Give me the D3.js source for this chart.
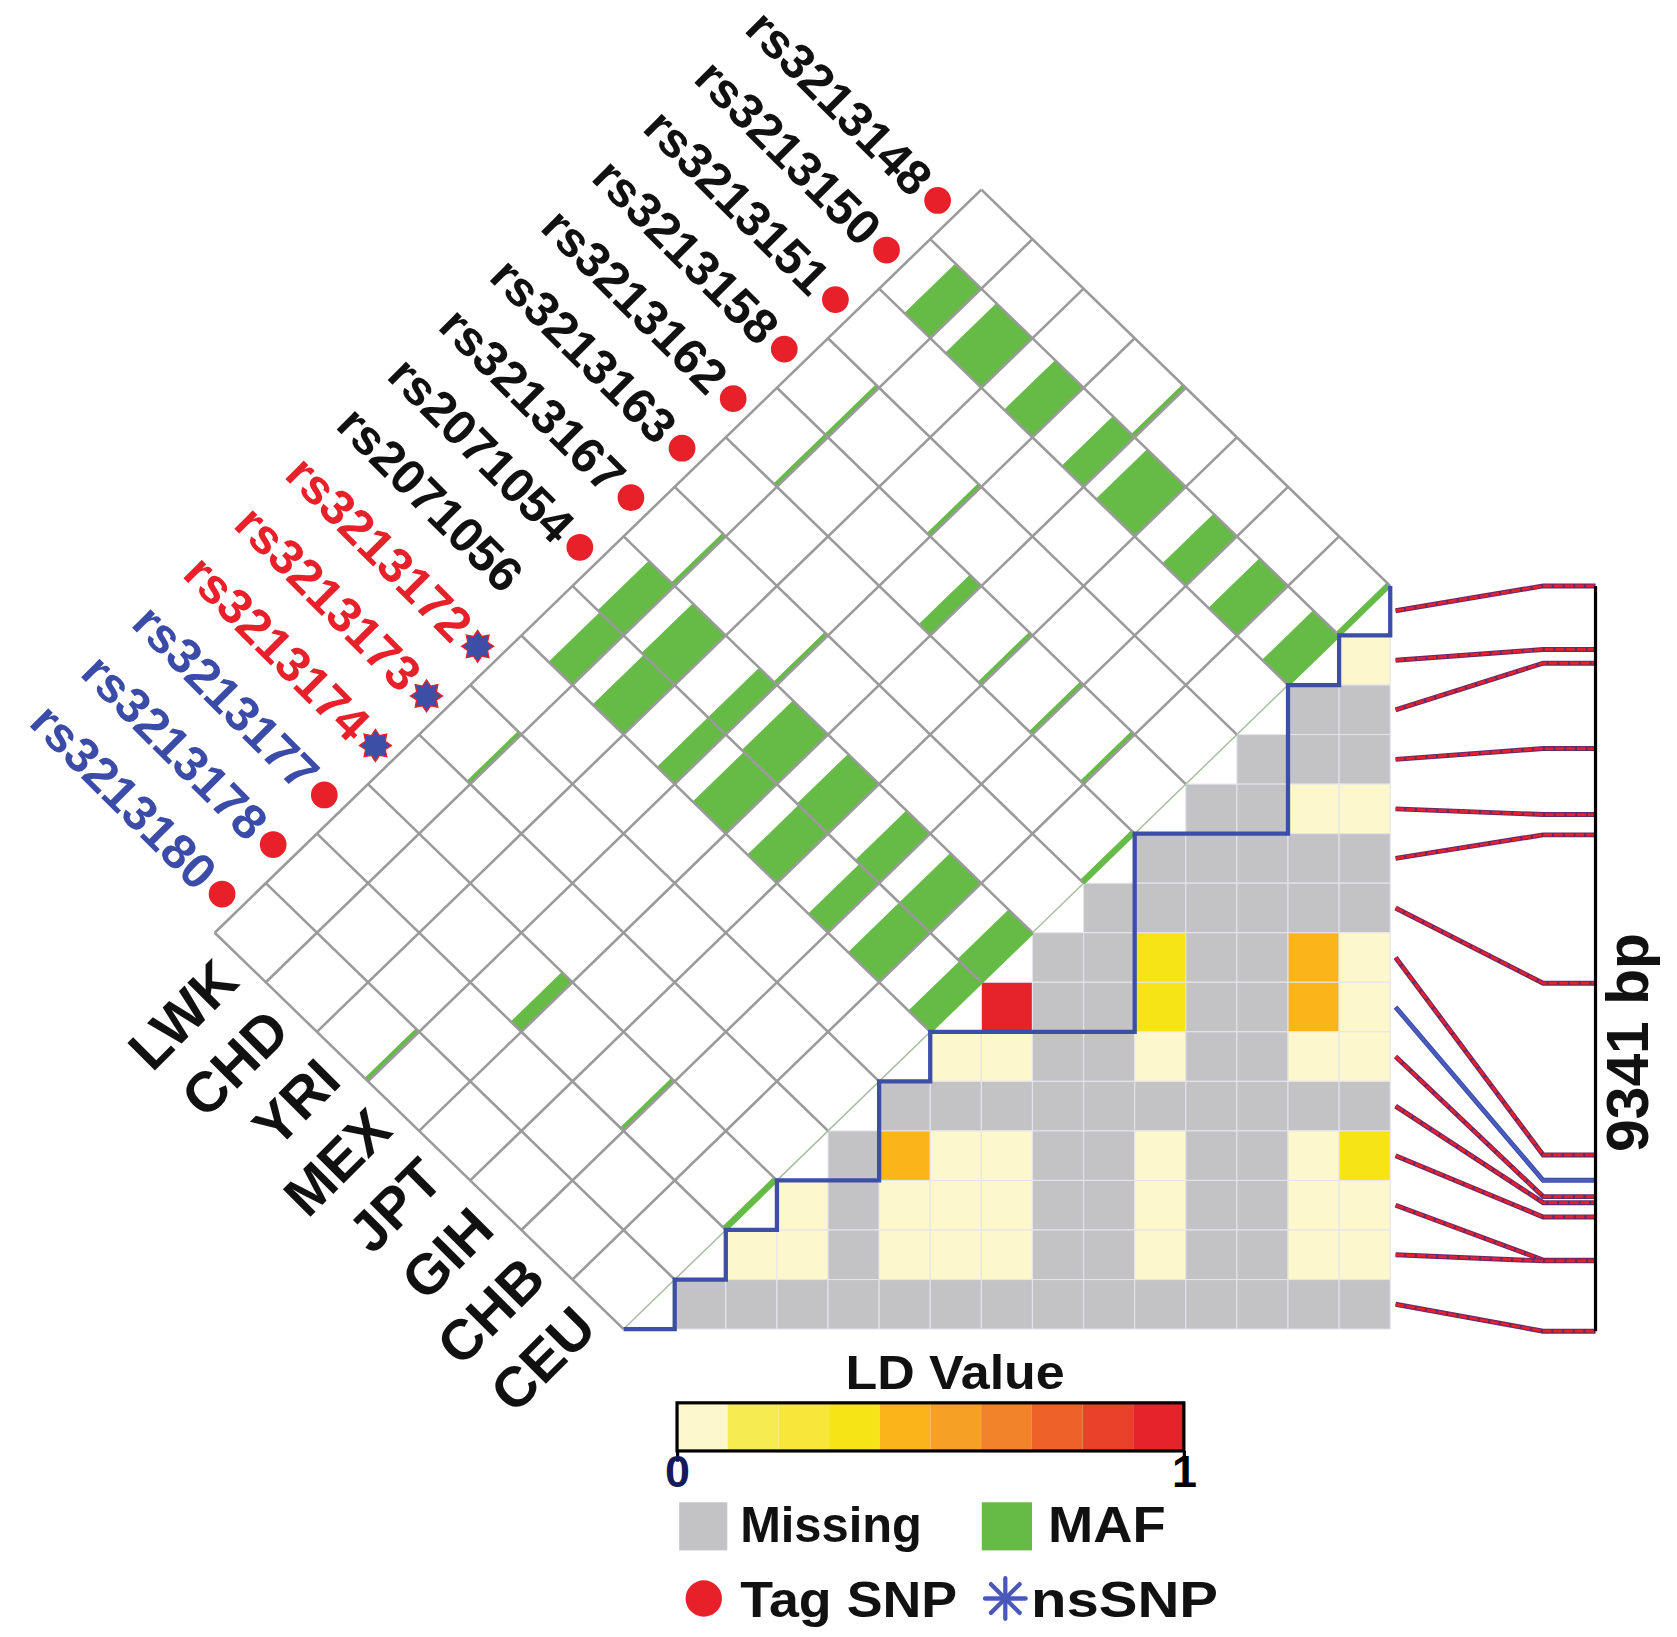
<!DOCTYPE html>
<html><head><meta charset="utf-8">
<script src="https://cdn.jsdelivr.net/npm/d3@7"></script>
<style>html,body{margin:0;padding:0;background:#fff;} svg{display:block}</style>
</head><body>
<svg id="chart" width="1677" height="1637" viewBox="0 0 1568 1531"></svg>
<script>
// ---------------- DATA ----------------
const snps = ["rs3213148","rs3213150","rs3213151","rs3213158","rs3213162","rs3213163","rs3213167",
  "rs2071054","rs2071056","rs3213172","rs3213173","rs3213174","rs3213177","rs3213178","rs3213180"];
const snpLabelColor = ["k","k","k","k","k","k","k","k","k","r","r","r","b","b","b"];
const snpMarker = ["tag","tag","tag","tag","tag","tag","tag","tag","none","ns","ns","ns","tag","tag","tag"];
const populations = ["LWK","CHD","YRI","MEX","JPT","GIH","CHB","CEU"];
// MAF bar fraction per SNP (index order of snps) for each population
const mafLWK = [0, .50, 0, .06, .06, 0, .06, .50, .46, 0, .06, 0, 0, 0, 0];
const mafCHD = [0, .70, 0, 0, 0, 0, 0, .64, .60, 0, 0, 0, 0, 0, 0];
const mafYRI = [0, .55, 0, .06, 0, 0, .06, .34, .34, 0, 0, 0, 0, 0, .06];
const mafMEX = [.06, .42, 0, 0, .22, 0, 0, .68, .64, 0, 0, 0, .20, 0, 0];
const mafJPT = [0, .75, 0, 0, .06, 0, 0, .60, .57, 0, 0, 0, 0, 0, 0];
const mafGIH = [0, .45, 0, 0, .06, 0, 0, .46, .38, 0, 0, 0, .06, 0, 0];
const mafCHB = [0, .55, 0, 0, .06, 0, 0, .60, .60, 0, 0, 0, 0, 0, 0];
const mafCEU = [.06, .50, 0, 0, 0, .06, 0, .46, .42, 0, 0, 0, .06, 0, 0];
const mafByPop = [mafLWK, mafCHD, mafYRI, mafMEX, mafJPT, mafGIH, mafCHB, mafCEU];

// LD values, heatmap row r (SNP r) for columns 15-r .. 14 ; null = missing
const ldRow1  = [.05];
const ldRow2  = [null, null];
const ldRow3  = [null, null, null];
const ldRow4  = [null, null, .05, .05];
const ldRow5  = [null, null, null, null, null];
const ldRow6  = [null, null, null, null, null, null];
const ldRow7  = [null, null, .35, null, null, .45, .05];
const ldRow8  = [.95, null, null, .35, null, null, .45, .05];
const ldRow9  = [.05, .05, null, null, .05, null, null, .05, .05];
const ldRow10 = [null, null, null, null, null, null, null, null, null, null];
const ldRow11 = [null, .45, .05, .05, null, null, .05, null, null, .05, .35];
const ldRow12 = [.05, null, .05, .05, .05, null, null, .05, null, null, .05, .05];
const ldRow13 = [.05, .05, null, .05, .05, .05, null, null, .05, null, null, .05, .05];
const ldRow14 = [null, null, null, null, null, null, null, null, null, null, null, null, null, null];
const ldRows = [ldRow1, ldRow2, ldRow3, ldRow4, ldRow5, ldRow6, ldRow7, ldRow8, ldRow9, ldRow10, ldRow11, ldRow12, ldRow13, ldRow14];

// blue boundary (grid corners, col,row)
const blueBoundary = [[0,15],[1,15],[1,14],[2,14],[2,13],[3,13],[3,12],[5,12],[5,10],[6,10],[6,9],
  [10,9],[10,5],[13,5],[13,2],[14,2],[14,1],[15,1],[15,0]];

// SNP positions along the 9341 bp region
const snpPositions = [0, 796, 968, 2038, 2865, 3120, 4979, 7132, 7450, 7654, 7730, 7909, 8450, 8460, 9341];
const regionLength = 9341;
const ldColors = ["#fdf7cc","#f6ec52","#f7e73a","#f6e416","#fbb51b","#f7a124","#f2832a","#ee6128","#ea4228","#e6232b"];
const legendTicks = [0, 1];
const legendItems = ["Missing", "MAF", "Tag SNP", "nsSNP"];

// ---------------- DRAW ----------------
const svg = d3.select("#chart");
const x = d3.scaleLinear().domain([0, 15]).range([583, 1300]);
const y = d3.scaleLinear().domain([0, 15]).range([548, 1243]);
const V = (a, b) => [x(7 - a + b), y(-8 + a + b)];
const color = d3.scaleQuantize().domain([0, 1]).range(ldColors);
const MISSING = "#c3c3c6", GREEN = "#66bb46", RED = "#e8202a", BLUE = "#3c4ea6";
const labelColors = {k: "#111", r: RED, b: "#3a4ba8"};
const FONT = "'Liberation Sans', Arial, sans-serif";

// heatmap
const cells = [];
ldRows.forEach((row, k) => {
  const r = k + 1;
  row.forEach((v, m) => cells.push({r, c: 15 - r + m, v}));
});
svg.append("g").selectAll("rect").data(cells).join("rect")
  .attr("x", d => x(d.c)).attr("y", d => y(d.r))
  .attr("width", x(1) - x(0)).attr("height", y(1) - y(0))
  .attr("fill", d => d.v === null ? MISSING : color(d.v))
  .attr("stroke", "#e4e4ec").attr("stroke-width", 1);

// MAF green bars
const mafCells = [];
mafByPop.forEach((arr, j) => arr.forEach((f, i) => { if (f > 0) mafCells.push({i, j, f}); }));
svg.append("g").selectAll("path").data(mafCells).join("path")
  .attr("d", d => {
    const pts = [V(d.i, d.j + 1 - d.f), V(d.i, d.j + 1), V(d.i + 1, d.j + 1), V(d.i + 1, d.j + 1 - d.f)];
    return "M" + pts.map(p => p.join(",")).join("L") + "Z";
  })
  .attr("fill", GREEN).attr("stroke", GREEN).attr("stroke-width", 1).attr("stroke-linejoin", "round");

// diamond grid lines
const gridG = svg.append("g").attr("stroke", "#9a9a9a").attr("stroke-width", 2.4).attr("fill", "none");
d3.range(0, 16).forEach(a => {
  const p0 = V(a, 0), p1 = V(a, 8);
  gridG.append("line").attr("x1", p0[0]).attr("y1", p0[1]).attr("x2", p1[0]).attr("y2", p1[1]);
});
d3.range(0, 9).forEach(b => {
  const p0 = V(0, b), p1 = V(15, b);
  gridG.append("line").attr("x1", p0[0]).attr("y1", p0[1]).attr("x2", p1[0]).attr("y2", p1[1])
    .attr("stroke", b === 8 ? "#a9bda2" : null).attr("stroke-width", b === 8 ? 1.4 : null);
});
// thin green edges on top of the last grid line
svg.append("g").selectAll("path").data(mafCells.filter(d => d.j === 7)).join("path")
  .attr("d", d => { const a = V(d.i, 8), b = V(d.i + 1, 8); return `M${a}L${b}`; })
  .attr("stroke", GREEN).attr("stroke-width", 3);

// blue boundary
svg.append("path").datum(blueBoundary)
  .attr("d", d3.line().x(d => x(d[0])).y(d => y(d[1])))
  .attr("fill", "none").attr("stroke", BLUE).attr("stroke-width", 4).attr("stroke-linejoin", "miter");

// star generator
function starPath(cx, cy, R, r, n) {
  const pts = [];
  for (let k = 0; k < 2 * n; k++) {
    const ang = Math.PI * k / n - Math.PI / 2, rad = k % 2 ? r : R;
    pts.push([cx + rad * Math.cos(ang), cy + rad * Math.sin(ang)]);
  }
  return "M" + pts.map(p => p.join(",")).join("L") + "Z";
}

// SNP labels
const snpG = svg.append("g");
snps.forEach((name, i) => {
  const e = V(i + 0.5, 0);
  const dot = [e[0] - 17, e[1] - 13];
  const anchor = [dot[0] - 13, dot[1] - 13];
  snpG.append("text")
    .attr("transform", `translate(${anchor[0]},${anchor[1]}) rotate(45)`)
    .attr("text-anchor", "end").attr("dominant-baseline", "central")
    .attr("font-family", FONT).attr("font-weight", "bold").attr("font-size", 46)
    .attr("fill", labelColors[snpLabelColor[i]]).text(name);
  if (snpMarker[i] === "tag") {
    snpG.append("circle").attr("cx", dot[0]).attr("cy", dot[1]).attr("r", 12.5).attr("fill", RED);
  } else if (snpMarker[i] === "ns") {
    snpG.append("path").attr("d", starPath(dot[0], dot[1], 15, 10, 8))
      .attr("fill", BLUE).attr("stroke", RED).attr("stroke-width", 1.2);
  }
});

// population labels
const popG = svg.append("g");
populations.forEach((p, j) => {
  const e = V(15, j + 0.5);
  popG.append("text")
    .attr("transform", `translate(${e[0] - 12},${e[1] + 12}) rotate(-45)`)
    .attr("text-anchor", "end").attr("dominant-baseline", "central")
    .attr("font-family", FONT).attr("font-weight", "bold").attr("font-size", 53)
    .attr("fill", "#111").text(p);
});

// connectors to genomic ruler
const pos = d3.scaleLinear().domain([0, regionLength]).range([548, 1245]);
const rulerX = 1492, kinkX = 1443, startX = 1305;
const conG = svg.append("g").attr("fill", "none");
snpPositions.forEach((bp, i) => {
  const pts = [[startX, y(i + 0.5)], [kinkX, pos(bp)], [rulerX, pos(bp)]];
  const ln = d3.line()(pts);
  const isBlue = i === 8;
  conG.append("path").attr("d", ln).attr("stroke", isBlue ? BLUE : "#6a2868").attr("stroke-width", 4.6);
  conG.append("path").attr("d", ln).attr("stroke", isBlue ? "#4a5cc0" : RED).attr("stroke-width", 2.6)
    .attr("stroke-dasharray", isBlue ? null : "8,2");
});
svg.append("line").attr("x1", rulerX).attr("x2", rulerX)
  .attr("y1", pos(0)).attr("y2", pos(regionLength))
  .attr("stroke", "#000").attr("stroke-width", 3);
svg.append("text")
  .attr("transform", `translate(1522,975) rotate(-90)`)
  .attr("text-anchor", "middle").attr("dominant-baseline", "central")
  .attr("font-family", FONT).attr("font-size", 55).attr("font-weight", "bold").attr("fill", "#111")
  .text(regionLength + " bp");

// ---------------- LEGEND ----------------
const leg = svg.append("g");
const ls = d3.scaleLinear().domain([0, 1]).range([633, 1107]);
leg.append("text").attr("x", 893).attr("y", 1299).attr("text-anchor", "middle")
  .attr("font-family", FONT).attr("font-weight", "bold").attr("font-size", 45).attr("fill", "#111")
  .attr("textLength", 205).attr("lengthAdjust", "spacingAndGlyphs").text("LD Value");
leg.selectAll("rect.seg").data(ldColors).join("rect").attr("class", "seg")
  .attr("x", (c, k) => ls(k / 10)).attr("y", 1312)
  .attr("width", ls(0.1) - ls(0)).attr("height", 45).attr("fill", c => c);
leg.append("rect").attr("x", ls(0)).attr("y", 1312).attr("width", ls(1) - ls(0)).attr("height", 45)
  .attr("fill", "none").attr("stroke", "#000").attr("stroke-width", 3);
const axG = leg.append("g").attr("transform", "translate(0,1357)")
  .call(d3.axisBottom(ls).tickValues(legendTicks).tickSize(10).tickFormat(d3.format("d")));
axG.select(".domain").remove();
axG.selectAll(".tick line").attr("stroke", "#000").attr("stroke-width", 3);
axG.selectAll(".tick text").attr("font-family", FONT).attr("font-weight", "bold").attr("font-size", 42)
  .attr("fill", (d) => d === 0 ? "#121a5a" : "#000").attr("dy", "0.5em");

const itemW = [170, 110, 203, 175];
leg.append("rect").attr("x", 635).attr("y", 1405).attr("width", 45).attr("height", 45).attr("fill", MISSING);
leg.append("rect").attr("x", 918).attr("y", 1405).attr("width", 47).attr("height", 45).attr("fill", GREEN);
leg.append("circle").attr("cx", 658).attr("cy", 1495).attr("r", 17).attr("fill", RED);
const starG = leg.append("g").attr("stroke", "#4a58b8").attr("stroke-width", 4).attr("stroke-linecap", "round");
d3.range(0, 8).forEach(k => {
  const ang = Math.PI * k / 4;
  starG.append("line").attr("x1", 940).attr("y1", 1495)
    .attr("x2", 940 + 19 * Math.cos(ang)).attr("y2", 1495 + 19 * Math.sin(ang));
});
const itemXY = [[692, 1442], [980, 1442], [692, 1512], [964, 1512]];
legendItems.forEach((t, k) => {
  leg.append("text").attr("x", itemXY[k][0]).attr("y", itemXY[k][1])
    .attr("font-family", FONT).attr("font-weight", "bold").attr("font-size", 47).attr("fill", "#111")
    .attr("textLength", itemW[k]).attr("lengthAdjust", "spacingAndGlyphs").text(t);
});
</script>
</body></html>
